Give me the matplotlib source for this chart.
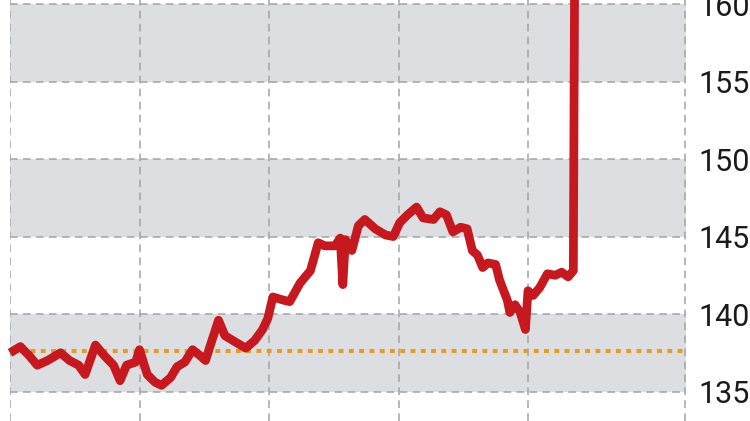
import matplotlib
matplotlib.use("Agg")
import matplotlib.pyplot as plt

# x positions in months (gridline every 1.0)
months = [0.00, 0.08, 0.15, 0.21, 0.29, 0.39, 0.46, 0.53, 0.58, 0.66,
          0.73, 0.80, 0.85, 0.90, 0.97, 1.00, 1.06, 1.12, 1.17, 1.24,
          1.29, 1.35, 1.41, 1.47, 1.51, 1.54, 1.61, 1.66, 1.72, 1.82,
          1.89, 1.95, 1.99, 2.03, 2.11, 2.16, 2.24, 2.32, 2.38, 2.43,
          2.51, 2.55, 2.57, 2.59, 2.64, 2.69, 2.74, 2.82, 2.90, 2.96,
          3.01, 3.07, 3.14, 3.19, 3.27, 3.32, 3.37, 3.42, 3.48, 3.53,
          3.57, 3.61, 3.65, 3.69, 3.75, 3.78, 3.84, 3.86, 3.90, 3.94,
          3.98, 4.00, 4.04, 4.09, 4.15, 4.21, 4.26, 4.31, 4.35, 4.36]
values = [137.5, 137.9, 137.3, 136.7, 137.0, 137.5, 137.0, 136.7, 136.1, 138.0,
          137.3, 136.7, 135.7, 136.7, 136.9, 137.7, 136.1, 135.6, 135.4, 135.9,
          136.6, 136.9, 137.7, 137.3, 137.0, 137.8, 139.6, 138.6, 138.3, 137.8,
          138.3, 139.0, 139.7, 141.1, 140.9, 140.8, 142.0, 142.8, 144.6, 144.4,
          144.4, 144.9, 141.9, 144.8, 144.1, 145.7, 146.1, 145.5, 145.1, 145.0,
          145.9, 146.4, 146.9, 146.2, 146.1, 146.6, 146.4, 145.3, 145.6, 145.5,
          144.1, 143.8, 143.0, 143.3, 143.2, 142.2, 140.9, 140.1, 140.6, 140.1,
          139.0, 141.5, 141.2, 141.7, 142.6, 142.5, 142.7, 142.4, 142.8, 162.0]
reference_level = 137.6
y_ticks = [135, 140, 145, 150, 155, 160]
x_grid = [0, 1, 2, 3, 4]

fig = plt.figure(figsize=(7.5, 4.21), dpi=100)
ax = fig.add_axes([10 / 750, 0, 676 / 750, 1])
ax.set_xlim(0, 676 / 129.5)
ax.set_ylim(133.1, 160.26)

band = "#dcdee1"
for lo in (135, 145, 155):
    ax.axhspan(lo, lo + 5, color=band, lw=0, zorder=0)

grid_kw = dict(color="#a3a3a3", lw=1.1, ls=(0, (5, 3.5)), zorder=1)
for yv in y_ticks:
    ax.axhline(yv, **grid_kw)
for xv in x_grid:
    ax.axvline(xv, **grid_kw)
ax.axvline(676 / 129.5 - 0.01, **grid_kw)

ax.axhline(reference_level, color="#e49c22", lw=2.9, ls=(0, (1.2, 1.35)), zorder=2)

ax.plot(months, values, color="#c6181f", lw=6.3, solid_joinstyle="round",
        solid_capstyle="butt", zorder=3, clip_on=False)

for s in ax.spines.values():
    s.set_visible(False)
ax.set_xticks([])
ax.yaxis.tick_right()
ax.set_yticks(y_ticks)
ax.set_yticklabels([str(v) for v in y_ticks], fontsize=22, fontfamily="Roboto",
                   color="#1a1a1a")
ax.tick_params(axis="y", length=0, pad=9)

fig.savefig("out.png", dpi=100)
